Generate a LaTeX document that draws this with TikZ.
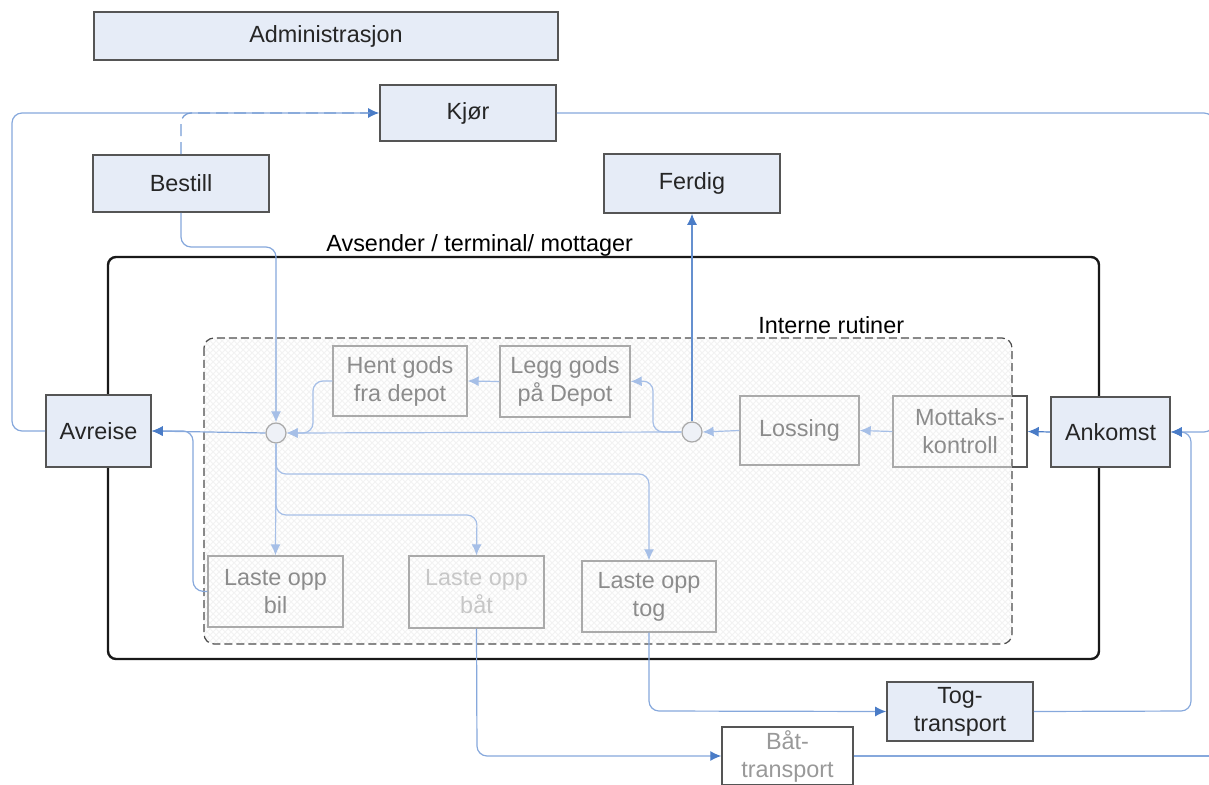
\documentclass[tikz,border=0pt]{standalone}
\usepackage{fontspec}
\setmainfont{Liberation Sans}
\usetikzlibrary{arrows.meta,patterns}
\definecolor{boxfill}{HTML}{E6ECF7}
\definecolor{boxline}{HTML}{555555}
\definecolor{mblue}{HTML}{4A7CC7}
\definecolor{lblue}{HTML}{86A8DC}
\definecolor{ilblue}{HTML}{A6BFE7}
\definecolor{gline}{HTML}{AAAAAA}
\definecolor{gtext}{HTML}{8C8C8C}
\definecolor{circfill}{HTML}{EEF1F7}
\begin{document}
\begin{tikzpicture}[x=0.5pt,y=-0.5pt,font=\fontsize{11.7}{14}\selectfont,
  mainbox/.style={draw=boxline,fill=boxfill,line width=0.8pt,inner sep=0pt,align=center,text=black!85},
  ibox/.style={draw=gline,line width=0.7pt,inner sep=0pt,align=center,text=gtext},
  junction/.style={circle,draw=gline,fill=circfill,line width=0.6pt,minimum size=10pt,inner sep=0pt},
  conn/.style={draw=lblue,line width=0.6pt,rounded corners=5pt,-{Latex[length=5.5pt,width=5pt,color=mblue]}},
  iconn/.style={draw=ilblue,line width=0.6pt,rounded corners=5pt,-{Latex[length=5.5pt,width=5pt,color=ilblue]}},
  plain/.style={draw=lblue,line width=0.6pt,rounded corners=5pt}]
\useasboundingbox (0,0) rectangle (1209,785);
\clip (0,0) rectangle (1209,785);
% containers
\draw[line width=1.2pt,draw=black!90,rounded corners=4pt] (108,257) rectangle (1099,659);
\fill[white] (204,338) rectangle (1012,644);
\draw[draw=black!70,line width=0.6pt,dash pattern=on 4pt off 2pt,rounded corners=5pt,pattern=crosshatch,pattern color=black!5] (204,338) rectangle (1012,644);
\node[anchor=west,inner sep=0pt] (lblavs) at (326,245) {Avsender / terminal/ mottager};
\node[anchor=west,inner sep=0pt] (lblint) at (758,325) {Interne rutiner};
% nodes
\node[mainbox,minimum width=232pt,minimum height=24pt] (adm) at (326,36) {Administrasjon};
\node[mainbox,minimum width=88pt,minimum height=28pt] (kjor) at (468,113) {Kjør};
\node[mainbox,minimum width=88pt,minimum height=28.5pt] (bestill) at (181,183.5) {Bestill};
\node[mainbox,minimum width=88pt,minimum height=29.5pt] (ferdig) at (692,183.5) {Ferdig};
\node[mainbox,minimum width=52.5pt,minimum height=36pt] (avreise) at (98.5,431) {Avreise};
\node[mainbox,minimum width=59.5pt,minimum height=35pt] (ankomst) at (1110.5,432) {Ankomst};
\node[ibox,minimum width=67pt,minimum height=35pt] (hent) at (400,381) {Hent gods\\fra depot};
\node[ibox,minimum width=65pt,minimum height=35.5pt] (legg) at (565,381.5) {Legg gods\\på Depot};
\node[ibox,minimum width=59.5pt,minimum height=34.5pt] (lossing) at (799.5,430.5) {Lossing};
\node[ibox,minimum width=67pt,minimum height=35.5pt] (mottak) at (960,431.5) {Mottaks-\\kontroll};
\draw[draw=boxline,line width=0.7pt] (1012,396) -- (1027,396) -- (1027,467) -- (1012,467);
\node[ibox,minimum width=67.5pt,minimum height=35.5pt] (bil) at (275.5,591.5) {Laste opp\\bil};
\node[ibox,minimum width=67.5pt,minimum height=36pt,text=black!22] (bat) at (476.5,592) {Laste opp\\båt};
\node[ibox,minimum width=67pt,minimum height=35.5pt] (tog) at (649,596.5) {Laste opp\\tog};
\node[mainbox,minimum width=73pt,minimum height=29.5pt] (togtr) at (960,711.5) {Tog-\\transport};
\node[ibox,draw=boxline,fill=white,minimum width=65.5pt,minimum height=29pt,text=black!40] (battr) at (787.5,756) {Båt-\\transport};
\node[junction] (c1) at (276,433) {};
\node[junction] (c2) at (692,432) {};
% connectors
\draw[conn] (avreise.west) -- (12,431) -- (12,113) -- (kjor.west);
\draw[plain,draw=mblue!75,dash pattern=on 6pt off 3pt] (bestill.north) -- (181,113) -- (370,113);
\draw[iconn,draw=lblue] (bestill.south) -- (181,247) -- (276,247) -- (c1.north);
\draw[conn] (kjor.east) -- (1214,113) -- (1214,432) -- (ankomst.east);
\draw[conn,draw=mblue!85] (c2.north) -- (ferdig.south);
\draw[conn,draw=mblue] (ankomst.west) -- (mottak.east);
\draw[conn] (togtr.east) -- (1191,711) -- (1191,432) -- (ankomst.east);
\draw[iconn] (mottak.west) -- (lossing.east);
\draw[iconn] (lossing.west) -- (c2.east);
\draw[iconn] (c2.west) -- (c1.east);
\draw[iconn] (c2.west) -- (653,432) -- (653,381) -- (legg.east);
\draw[iconn] (legg.west) -- (hent.east);
\draw[iconn] (hent.west) -- (313,381) -- (313,433) -- (c1.east);
\draw[conn] (c1.west) -- (avreise.east);
\draw[conn] (bil.west) -- (193,591) -- (193,431) -- (avreise.east);
\draw[iconn] (c1.south) -- (bil.north);
\draw[iconn] (c1.south) -- (276,515) -- (477,515) -- (bat.north);
\draw[iconn] (c1.south) -- (276,474) -- (649,474) -- (tog.north);
\draw[conn] (tog.south) -- (649,711) -- (togtr.west);
\draw[conn] (bat.south) -- (477,756) -- (battr.west);
\draw[plain] (battr.east) -- (1215,756);
\end{tikzpicture}
\end{document}
